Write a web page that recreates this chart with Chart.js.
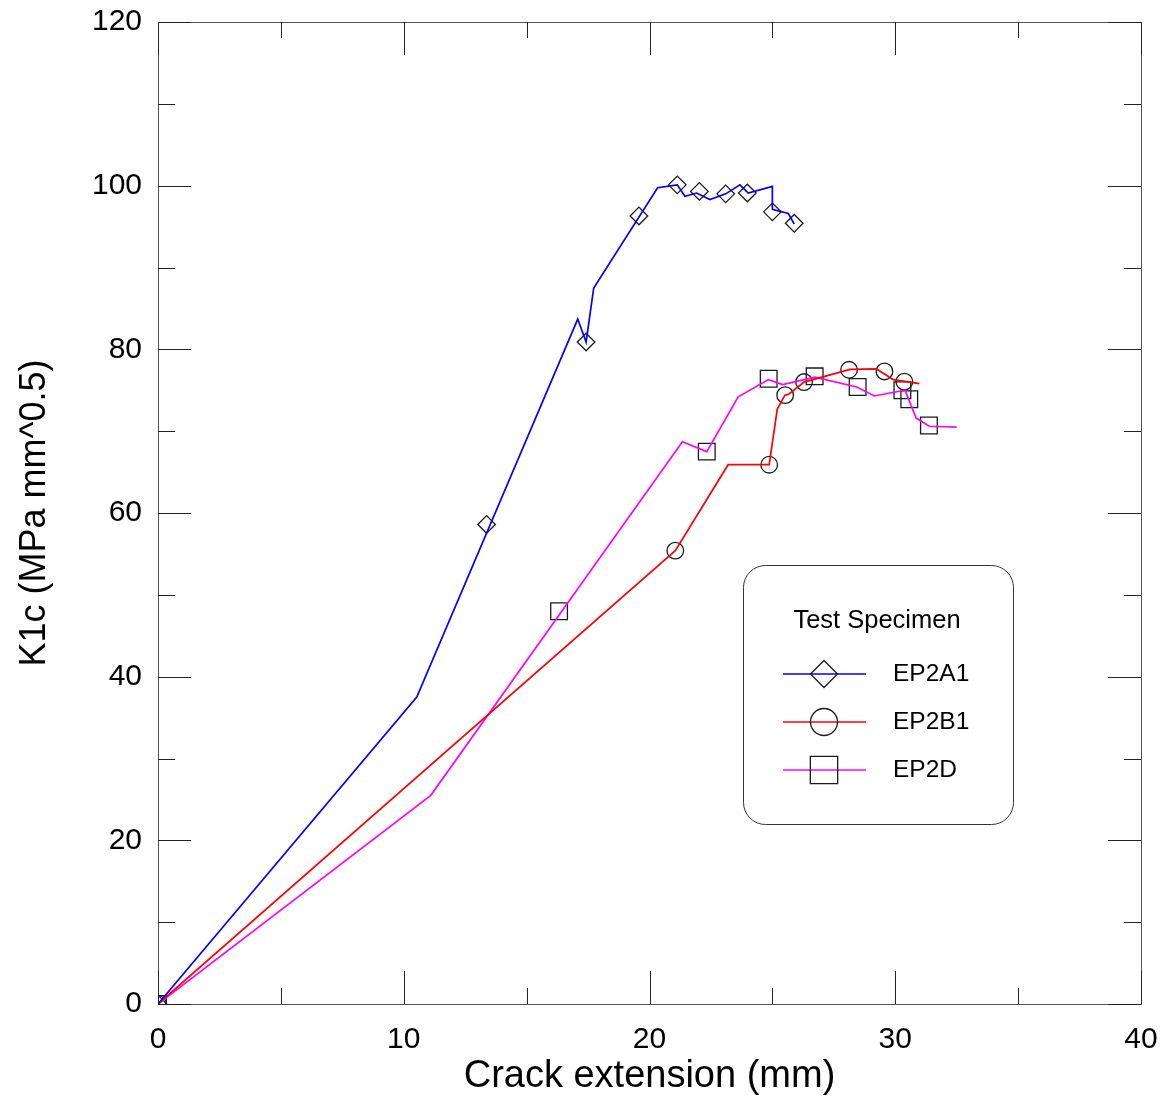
<!DOCTYPE html>
<html>
<head>
<meta charset="utf-8">
<title>K1c vs crack extension</title>
<script src="https://cdn.jsdelivr.net/npm/chart.js@4.4.1/dist/chart.umd.min.js"></script>
<style>
  html, body { margin: 0; padding: 0; background: #fff; }
  #wrap { width: 1173px; height: 1099px; }
</style>
</head>
<body>
<div id="wrap"><canvas id="k1cChart" width="1173" height="1099"></canvas></div>
<script>
// EP2A1 - line vertices and marker positions
const A1_LINE_X = [0, 10.53, 17.08, 17.42, 17.73, 20.33, 21.13, 21.44, 21.92, 22.46, 23.1, 23.68, 24.02, 25.0, 25.0, 25.65, 25.89];
const A1_LINE_Y = [0, 37.5, 83.7, 80.9, 87.5, 99.75, 100.1, 98.7, 99.1, 98.3, 99.0, 100.1, 99.1, 99.9, 97.1, 96.6, 95.3];
const A1_MARK_X = [0, 13.37, 17.42, 19.57, 21.13, 22.03, 23.1, 23.98, 25.0, 25.89];
const A1_MARK_Y = [0, 58.6, 80.9, 96.3, 100.1, 99.3, 99.0, 99.1, 96.8, 95.4];

// EP2B1
const B1_LINE_X = [0, 21.05, 23.2, 24.87, 25.2, 25.51, 25.65, 26.29, 28.16, 29.24, 29.92, 30.98];
const B1_LINE_Y = [0, 55.4, 65.9, 65.9, 72.7, 74.4, 74.5, 76.0, 77.55, 77.6, 76.3, 75.8];
const B1_MARK_X = [0, 21.05, 24.87, 25.52, 26.29, 28.12, 29.56, 30.37];
const B1_MARK_Y = [0, 55.4, 65.9, 74.4, 76.0, 77.5, 77.3, 76.05];

// EP2D
const D_LINE_X = [0, 11.1, 21.34, 22.33, 23.61, 24.84, 25.42, 26.73, 28.43, 29.15, 30.4, 30.85, 31.39, 32.5];
const D_LINE_Y = [0, 25.5, 68.7, 67.5, 74.2, 76.3, 75.7, 76.6, 75.4, 74.3, 75.0, 71.6, 70.6, 70.5];
const D_MARK_X = [0, 16.32, 22.33, 24.85, 26.72, 28.47, 30.29, 30.57, 31.37];
const D_MARK_Y = [0, 48.0, 67.5, 76.4, 76.7, 75.4, 75.0, 73.9, 70.7];

const SERIES_NAMES = ['EP2A1', 'EP2B1', 'EP2D'];
const SERIES_COLORS = ['#0000ff', '#ff0000', '#ff00ff'];
const SERIES_MARKERS = ['rectRot', 'circle', 'rect'];
const LEGEND_TITLE = 'Test Specimen';
const X_TITLE = 'Crack extension (mm)';
const Y_TITLE = 'K1c (MPa mm^0.5)';

const FONT = "'Liberation Sans', Arial, Helvetica, sans-serif";
const MARK_RADIUS = { rectRot: 8.8, circle: 8.3, rect: 11.8 };

function toPoints(xs, ys) {
    return xs.map((x, i) => ({ x: x, y: ys[i] }));
}

const lineSets = [
    [A1_LINE_X, A1_LINE_Y], [B1_LINE_X, B1_LINE_Y], [D_LINE_X, D_LINE_Y]
];
const markSets = [
    [A1_MARK_X, A1_MARK_Y], [B1_MARK_X, B1_MARK_Y], [D_MARK_X, D_MARK_Y]
];

const datasets = [];
lineSets.forEach((s, i) => {
    datasets.push({
        label: SERIES_NAMES[i], data: toPoints(s[0], s[1]), showLine: true,
        borderColor: SERIES_COLORS[i], borderWidth: 1.7, pointRadius: 0, tension: 0
    });
});
markSets.forEach((s, i) => {
    datasets.push({
        label: SERIES_NAMES[i] + ' markers', data: toPoints(s[0], s[1]), showLine: false,
        pointStyle: SERIES_MARKERS[i], pointRadius: MARK_RADIUS[SERIES_MARKERS[i]],
        pointBorderColor: '#1a1a1a', pointBackgroundColor: 'rgba(0,0,0,0)', pointBorderWidth: 1.3
    });
});

// frame plus inward ticks on all four sides
const framePlugin = {
    id: 'frame',
    afterDatasetsDraw(chart) {
        const { ctx, chartArea: a, scales: { x, y } } = chart;
        ctx.save();
        ctx.lineWidth = 1;
        ctx.strokeStyle = '#555';
        ctx.strokeRect(a.left + 0.5, a.top + 0.5, a.right - a.left, a.bottom - a.top);
        ctx.strokeStyle = '#222';
        ctx.beginPath();
        for (let v = x.min; v <= x.max; v += 5) {
            const px = Math.round(x.getPixelForValue(v)) + 0.5;
            const len = v % 10 === 0 ? 33 : 16;
            ctx.moveTo(px, a.bottom); ctx.lineTo(px, a.bottom - len);
            ctx.moveTo(px, a.top); ctx.lineTo(px, a.top + len);
        }
        for (let v = y.min; v <= y.max; v += 10) {
            const py = Math.round(y.getPixelForValue(v)) + 0.5;
            const len = v % 20 === 0 ? 33 : 17;
            ctx.moveTo(a.left, py); ctx.lineTo(a.left + len, py);
            ctx.moveTo(a.right, py); ctx.lineTo(a.right - len, py);
        }
        ctx.stroke();
        ctx.restore();
    }
};

// boxed legend inside the plot area
const boxLegendPlugin = {
    id: 'boxLegend',
    afterDraw(chart) {
        const { ctx } = chart;
        const bx = 743, by = 565, bw = 270, bh = 259, r = 22;
        ctx.save();
        ctx.fillStyle = '#fff';
        ctx.strokeStyle = '#333';
        ctx.lineWidth = 1;
        ctx.beginPath();
        ctx.roundRect(bx + 0.5, by + 0.5, bw, bh, r);
        ctx.fill();
        ctx.stroke();
        ctx.fillStyle = '#000';
        ctx.font = '25.5px ' + FONT;
        ctx.textAlign = 'center';
        ctx.textBaseline = 'middle';
        ctx.fillText(LEGEND_TITLE, bx + 134, by + 56);
        ctx.font = '24.5px ' + FONT;
        SERIES_NAMES.forEach((name, i) => {
            const ry = by + 109 + i * 48;
            ctx.strokeStyle = SERIES_COLORS[i];
            ctx.lineWidth = 1.7;
            ctx.beginPath();
            ctx.moveTo(bx + 40, ry); ctx.lineTo(bx + 123, ry);
            ctx.stroke();
            const style = SERIES_MARKERS[i];
            const rad = style === 'rect' ? 19.3 : 13.5;
            ctx.strokeStyle = '#1a1a1a';
            ctx.fillStyle = 'rgba(0,0,0,0)';
            ctx.lineWidth = 1.3;
            Chart.helpers.drawPoint(ctx, { pointStyle: style, radius: rad, rotation: 0, borderWidth: 1.3 }, bx + 81, ry);
            ctx.fillStyle = '#000';
            ctx.textAlign = 'left';
            ctx.fillText(name, bx + 150, ry);
        });
        ctx.restore();
    }
};

new Chart(document.getElementById('k1cChart'), {
    type: 'scatter',
    data: { datasets: datasets },
    options: {
        responsive: false,
        animation: false,
        layout: { padding: { top: 22, right: 32, left: 0, bottom: 0 } },
        plugins: { legend: { display: false }, tooltip: { enabled: false } },
        scales: {
            x: {
                type: 'linear', min: 0, max: 40,
                afterFit(scale) { scale.height = 95; scale.paddingLeft = 0; scale.paddingRight = 0; },
                grid: { display: false, drawTicks: false },
                border: { display: false },
                ticks: { stepSize: 10, color: '#000', font: { family: FONT, size: 30 }, padding: 18 },
                title: { display: true, text: X_TITLE, color: '#000', font: { family: FONT, size: 38 }, padding: { top: 0, bottom: 0 } }
            },
            y: {
                type: 'linear', min: 0, max: 120,
                afterFit(scale) { scale.width = 158; scale.paddingTop = 0; scale.paddingBottom = 0; },
                grid: { display: false, drawTicks: false },
                border: { display: false },
                ticks: { stepSize: 20, color: '#000', font: { family: FONT, size: 30 }, padding: 16 },
                title: { display: true, text: Y_TITLE, color: '#000', font: { family: FONT, size: 36 }, padding: { top: 13, bottom: 0 } }
            }
        }
    },
    plugins: [framePlugin, boxLegendPlugin]
});
</script>
</body>
</html>
